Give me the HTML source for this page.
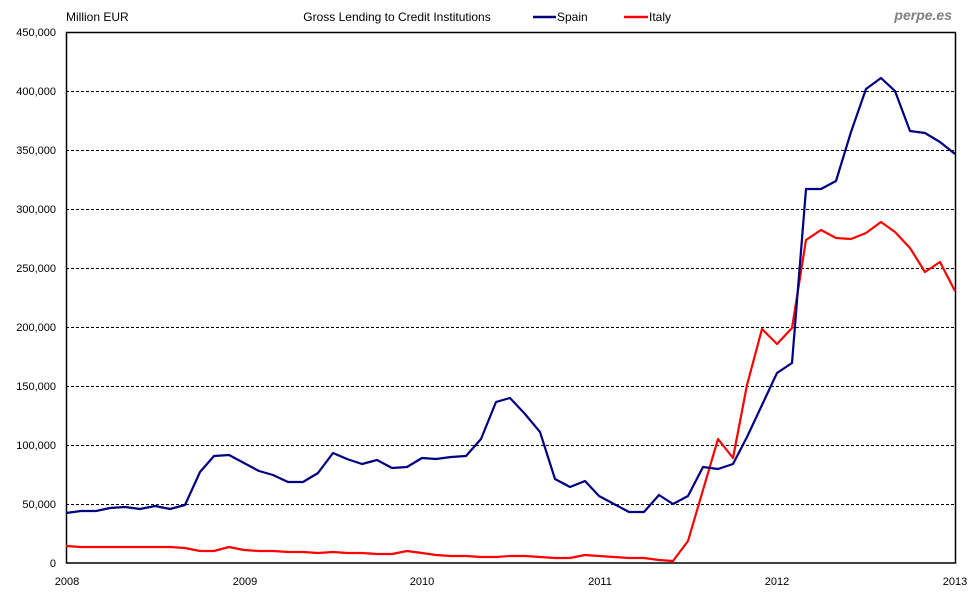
<!DOCTYPE html>
<html><head><meta charset="utf-8"><style>
body{margin:0;background:#fff;}
svg text{font-family:"Liberation Sans",Arial,sans-serif;font-size:11px;fill:#000;}
</style></head><body>
<svg width="980" height="600" xmlns="http://www.w3.org/2000/svg">
<rect width="980" height="600" fill="#fff"/>
<g stroke="#000" stroke-width="1" stroke-dasharray="3,2">
<line x1="66" x2="956" y1="91.5" y2="91.5"/>
<line x1="66" x2="956" y1="150.5" y2="150.5"/>
<line x1="66" x2="956" y1="209.5" y2="209.5"/>
<line x1="66" x2="956" y1="268.5" y2="268.5"/>
<line x1="66" x2="956" y1="327.5" y2="327.5"/>
<line x1="66" x2="956" y1="386.5" y2="386.5"/>
<line x1="66" x2="956" y1="445.5" y2="445.5"/>
<line x1="66" x2="956" y1="504.5" y2="504.5"/>
</g>
<rect x="66.5" y="32.5" width="889" height="530.5" fill="none" stroke="#000" stroke-width="1.5"/>
<g text-anchor="end">
<text x="56" y="36">450,000</text><text x="56" y="95">400,000</text><text x="56" y="154">350,000</text>
<text x="56" y="213">300,000</text><text x="56" y="272">250,000</text><text x="56" y="331">200,000</text>
<text x="56" y="390">150,000</text><text x="56" y="449">100,000</text><text x="56" y="508">50,000</text>
<text x="56" y="567">0</text>
</g>
<g text-anchor="middle">
<text x="67" y="585">2008</text><text x="245" y="585">2009</text><text x="422" y="585">2010</text>
<text x="600" y="585">2011</text><text x="777" y="585">2012</text><text x="955" y="585">2013</text>
</g>
<text x="66" y="21" style="font-size:12px">Million EUR</text>
<text x="397" y="21" text-anchor="middle" style="font-size:12px">Gross Lending to Credit Institutions</text>
<line x1="533" x2="556" y1="17" y2="17" stroke="#000080" stroke-width="2.5"/>
<text x="557" y="21" style="font-size:12px">Spain</text>
<line x1="624" x2="648" y1="17" y2="17" stroke="#ff0000" stroke-width="2.5"/>
<text x="649" y="21" style="font-size:12px">Italy</text>
<text x="952" y="20" text-anchor="end" style="font-size:14px;font-weight:bold;font-style:italic;fill:#808080">perpe.es</text>
<polyline fill="none" stroke="#ff0000" stroke-width="2.2" stroke-linejoin="round" points="66,546 81,547 96,547 110,547 125,547 140,547 155,547 170,547 185,548 200,551 214,551 229,547 244,550 259,551 273,551 288,552 303,552 318,553 333,552 347,553 362,553 377,554 392,554 407,551 422,553 436,555 451,556 466,556 481,557 496,557 510,556 525,556 540,557 555,558 570,558 585,555 599,556 614,557 629,558 644,558 659,560 673,561 688,541 703,490 718,439 733,458 747,385 762,329 777,344 792,328 806,240 821,230 836,238 851,239 866,233 881,222 895,232 910,248 925,272 940,262 955,291"/>
<polyline fill="none" stroke="#000080" stroke-width="2.2" stroke-linejoin="round" points="66,513 81,511 96,511 110,508 125,507 140,509 155,506 170,509 185,505 200,472 214,456 229,455 244,463 259,471 273,475 288,482 303,482 318,473 333,453 347,459 362,464 377,460 392,468 407,467 422,458 436,459 451,457 466,456 481,439 496,402 510,398 525,414 540,432 555,479 570,487 585,481 599,496 614,504 629,512 644,512 659,495 673,504 688,496 703,467 718,469 733,464 747,437 762,405 777,373 792,363 806,189 821,189 836,181 851,132 866,89 881,78 895,91 910,131 925,133 940,142 955,154"/>
</svg>
</body></html>
